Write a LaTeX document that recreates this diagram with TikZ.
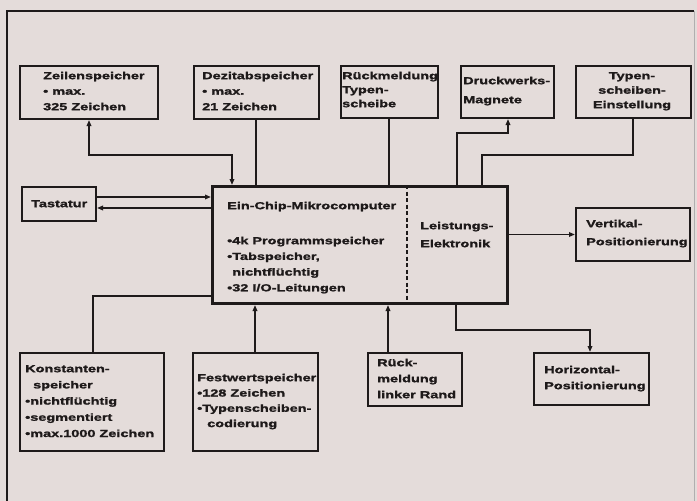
\documentclass[tikz,border=0pt]{standalone}
\usepackage{fontspec}
\setmainfont{Liberation Sans}[FakeStretch=1.42, BoldFeatures={FakeBold=1.6}]
\usetikzlibrary{arrows.meta,calc}
\definecolor{paper}{HTML}{E4DCDA}
\definecolor{ink}{HTML}{1E1A1A}
% fixed-height strut so that every label's top sits 8pt above its first baseline
\newcommand{\hstr}{\rule{0pt}{8pt}}
\begin{document}
\begin{tikzpicture}[x=1pt,y=-1pt,
  >={Triangle[length=6pt,width=4.5pt]},
  box/.style={draw=ink, line width=2pt, fill=paper, inner sep=0pt, anchor=north west},
  txt/.style={anchor=north west, inner sep=0pt, align=left, text=ink,
              font=\fontsize{10.2}{#1}\selectfont\bfseries},
  txt/.default=15.5,
  wire/.style={draw=ink, line width=1.5pt}]

% paper and outer frame
\fill[paper] (0,0) rectangle (697,501);
\useasboundingbox (0,0) rectangle (697,501);
\draw[ink, line width=2.5pt] (7,501) -- (7,11) -- (694,11);
\draw[ink!35, line width=1pt] (694,11) -- (694,501);

% blocks
\node[box, minimum width=138pt, minimum height=53pt] (zeil)  at (19,65)  {};
\node[box, minimum width=125pt, minimum height=53pt] (dez)   at (193,65) {};
\node[box, minimum width=97pt,  minimum height=52pt] (rmt)   at (340,65) {};
\node[box, minimum width=93pt,  minimum height=52pt] (druck) at (460,65) {};
\node[box, minimum width=115pt, minimum height=52pt] (typ)   at (575,65) {};
\node[box, minimum width=74pt,  minimum height=34pt] (tast)  at (21,186) {};
\node[box, line width=3pt, minimum width=295pt, minimum height=117pt] (main) at (211,185) {};
\node[box, minimum width=114pt, minimum height=53pt] (vert)  at (575,207) {};
\node[box, minimum width=144pt, minimum height=98pt] (konst) at (19,352) {};
\node[box, minimum width=125pt, minimum height=98pt] (fest)  at (192,352) {};
\node[box, minimum width=94pt,  minimum height=53pt] (rlr)   at (367,352) {};
\node[box, minimum width=115pt, minimum height=52pt] (horiz) at (533,352) {};

% divider between computer and power electronics
\draw[ink, line width=1.2pt, dash pattern=on 4pt off 2.5pt]
  ([xshift=196pt]main.north west) -- ([xshift=196pt]main.south west);

% labels
\node[txt] (tzeil) at (43,71) {\hstr Zeilenspeicher\\\textbullet\ max.\\325 Zeichen};
\node[txt] (tdez) at (202,71) {\hstr Dezitabspeicher\\\textbullet\ max.\\21 Zeichen};
\node[txt=14] (trmt) at (342,71) {\hstr Rückmeldung\\Typen-\\scheibe};
\node[txt=19] (tdruck) at (463,76) {\hstr Druckwerks-\\Magnete};
\node[txt=14.5, anchor=north, align=center] (ttyp) at (632,71) {\hstr Typen-\\scheiben-\\Einstellung};
\node[txt] (ttast) at (31,199) {\hstr Tastatur};
\node[txt] (tmain) at (227,201) {\hstr Ein-Chip-Mikrocomputer};
\node[txt=15.7] (tlist) at (227,236)
  {\hstr\textbullet 4k Programmspeicher\\\textbullet Tabspeicher,\\\phantom{\textbullet}nichtflüchtig\\\textbullet 32 I/O-Leitungen};
\node[txt=18] (tleist) at (420,221) {\hstr Leistungs-\\Elektronik};
\node[txt=18] (tvert) at (586,219) {\hstr Vertikal-\\Positionierung};
\node[txt=16.2] (tkonst) at (25,364)
  {\hstr Konstanten-\\\hspace{8pt}speicher\\\textbullet nichtflüchtig\\\textbullet segmentiert\\\textbullet max.1000 Zeichen};
\node[txt=15.3] (tfest) at (197,373)
  {\hstr Festwertspeicher\\\textbullet 128 Zeichen\\\textbullet Typenscheiben-\\\hspace{10pt}codierung};
\node[txt=16] (trlr) at (377,358) {\hstr Rück-\\meldung\\linker Rand};
\node[txt=16] (thoriz) at (544,365) {\hstr Horizontal-\\Positionierung};

% attachment points
\coordinate (z1) at ([xshift=70pt]zeil.south west);
\coordinate (m1) at ([xshift=21pt]main.north west);
\coordinate (d1) at ([xshift=63pt]dez.south west);
\coordinate (r1) at ([xshift=49pt]rmt.south west);
\coordinate (dr1) at ([xshift=48pt]druck.south west);
\coordinate (m2) at ([xshift=246pt]main.north west);
\coordinate (ty1) at ([xshift=58pt]typ.south west);
\coordinate (m3) at ([xshift=271pt]main.north west);
\coordinate (ta1) at ([yshift=-11pt]tast.north east);
\coordinate (ta2) at ([yshift=-22pt]tast.north east);
\coordinate (m4) at ([xshift=245pt]main.south west);
\coordinate (h1) at ([xshift=57pt]horiz.north west);
\coordinate (rl1) at ([xshift=21pt]rlr.north west);
\coordinate (f1) at ([xshift=63pt]fest.north west);
\coordinate (k1) at ([xshift=74pt]konst.north west);
\coordinate (m5) at ([yshift=9pt]main.south west);

% connectors
\draw[wire, <->] (z1) -- ++(0,35) -| (m1);
\draw[wire] (d1) -- (d1 |- main.north);
\draw[wire] (r1) -- (r1 |- main.north);
\draw[wire, ->] (m2) -- ++(0,-52) -| (dr1);
\draw[wire] (ty1) -- ++(0,36) -| (m3);
\draw[wire, ->] (ta1) -- (ta1 -| main.west);
\draw[wire, <-] (ta2) -- (ta2 -| main.west);
\draw[wire, ->] (vert.west -| main.east) -- (vert.west);
\draw[wire, ->] (m4) -- ++(0,25) -| (h1);
\draw[wire, ->] (rl1) -- (rl1 |- main.south);
\draw[wire, ->] (f1) -- (f1 |- main.south);
\draw[wire] (k1) |- (m5);
\end{tikzpicture}
\end{document}
